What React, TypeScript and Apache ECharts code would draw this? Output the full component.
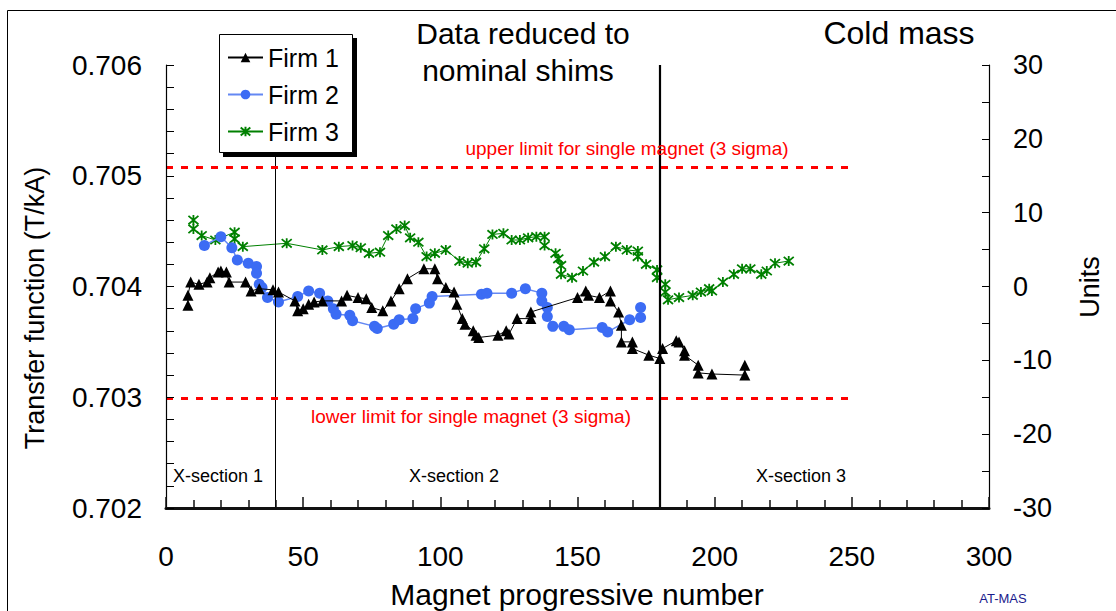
import React, { useEffect, useRef } from 'react';
import * as echarts from 'echarts';

const FONT = "'Liberation Sans', Arial, sans-serif";

// Magnet progressive number, transfer function (T/kA)
const firm1: number[][] = [
  [8, 0.70383], [8, 0.70392], [9, 0.70404], [12, 0.70402], [15, 0.70404], [16, 0.70408], [19, 0.70413], [20, 0.70414],
  [22, 0.70413], [23, 0.70404], [29, 0.70404], [31, 0.70396], [34, 0.70398], [39, 0.70397], [41, 0.70395], [47, 0.70387],
  [48, 0.70378], [50, 0.7038], [52, 0.70384], [54, 0.70386], [57, 0.70387], [64, 0.70387], [66, 0.70392], [70, 0.7039],
  [73, 0.70389], [75, 0.70381], [79, 0.70378], [82, 0.70387], [85, 0.70398], [88, 0.70407], [94, 0.70416], [98, 0.70416],
  [99, 0.70407], [102, 0.70399], [105, 0.70395], [106, 0.70384], [108, 0.70371], [109, 0.70366], [112, 0.7036], [113, 0.70356],
  [114, 0.70354], [121, 0.70356], [124, 0.7036], [125, 0.70357], [128, 0.70371], [133, 0.70371], [133, 0.70377], [150, 0.7039],
  [153, 0.70396], [154, 0.70392], [158, 0.7039], [162, 0.70396], [162, 0.70387], [165, 0.70377], [166, 0.70365], [166, 0.7035],
  [170, 0.7035], [170, 0.70344], [176, 0.70338], [180, 0.70335], [181, 0.70344], [186, 0.70351], [187, 0.7035], [189, 0.70342],
  [189, 0.70338], [194, 0.70329], [194, 0.70322], [199, 0.70321], [211, 0.7032], [211, 0.70329],
];

const firm2: number[][] = [
  [14, 0.70437], [20, 0.70445], [24, 0.70435], [26, 0.70424], [30, 0.70421], [33, 0.70418], [33, 0.70412], [34, 0.70402],
  [35, 0.70399], [37, 0.7039], [41, 0.70386], [48, 0.70391], [52, 0.70396], [56, 0.70394], [59, 0.70387], [61, 0.7038],
  [62, 0.70375], [67, 0.70374], [68, 0.70369], [76, 0.70364], [77, 0.70362], [83, 0.70366], [85, 0.7037], [90, 0.70371],
  [91, 0.7038], [96, 0.70385], [97, 0.70391], [115, 0.70393], [117, 0.70394], [126, 0.70394], [131, 0.70398], [137, 0.70394],
  [137, 0.70387], [139, 0.70381], [139, 0.70373], [141, 0.70364], [145, 0.70364], [147, 0.70361], [159, 0.70363], [161, 0.70359],
  [169, 0.7037], [173, 0.70372], [173, 0.70381],
];

const firm3: number[][] = [
  [10, 0.7046], [10, 0.70452], [13, 0.70446], [18, 0.70442], [25, 0.70449], [25, 0.70443], [28, 0.70436], [44, 0.70439],
  [57, 0.70433], [63, 0.70436], [68, 0.70437], [71, 0.70435], [74, 0.7043], [78, 0.70431], [81, 0.70446], [84, 0.70452],
  [87, 0.70455], [89, 0.70444], [92, 0.7044], [95, 0.70427], [98, 0.7043], [102, 0.70433], [107, 0.70423], [110, 0.70421],
  [113, 0.70422], [116, 0.70434], [119, 0.70447], [123, 0.70448], [126, 0.70442], [129, 0.70442], [132, 0.70444], [135, 0.70445],
  [138, 0.70445], [138, 0.70437], [142, 0.7043], [143, 0.70425], [144, 0.70419], [144, 0.70411], [148, 0.70408], [152, 0.70414],
  [156, 0.70422], [160, 0.70427], [164, 0.70436], [168, 0.70433], [172, 0.70432], [172, 0.70427], [175, 0.7042], [179, 0.70415],
  [179, 0.70408], [182, 0.70402], [182, 0.70395], [183, 0.70388], [187, 0.7039], [192, 0.70392], [195, 0.70395], [198, 0.70398],
  [199, 0.70396], [203, 0.70404], [207, 0.70411], [210, 0.70416], [213, 0.70416], [217, 0.70411], [219, 0.70414], [222, 0.70421],
  [227, 0.70423],
];

const seriesNames = ['Firm 1', 'Firm 2', 'Firm 3'];
const upperLimit = 0.70508;
const lowerLimit = 0.70299;
const limitRange = [0, 250];
const sectionBounds = [40, 180];

const STAR = 'path://M0,0L10,10M10,0L0,10M5,-1L5,11';

function txt(text: string, x: number, y: number, size: number, fill = '#000', extra: any = {}) {
  return {
    type: 'text',
    x,
    y,
    silent: true,
    z: 50,
    ...extra,
    style: {
      text,
      x: 0,
      y: 0,
      fill,
      fontSize: size,
      fontFamily: FONT,
      align: 'center',
      verticalAlign: 'middle',
      textAlign: 'center',
      textVerticalAlign: 'middle',
    },
  };
}

export default function App() {
  const ref = useRef<HTMLDivElement>(null);
  useEffect(() => {
    const chart = echarts.init(ref.current!, null, { renderer: 'svg' });
    const axisLabel = { color: '#000', fontSize: 27, fontFamily: FONT };
    chart.setOption({
      animation: false,
      backgroundColor: '#fff',
      grid: { left: 166, right: 127, top: 65, bottom: 103 },
      legend: {
        orient: 'vertical',
        left: 227,
        top: 45,
        padding: 0,
        itemWidth: 35,
        itemHeight: 12,
        itemGap: 12,
        z: 110,
        data: seriesNames,
        textStyle: { color: '#000', fontSize: 25, lineHeight: 25, fontFamily: FONT },
      },
      xAxis: {
        type: 'value',
        position: 'bottom',
        min: 0,
        max: 300,
        interval: 50,
        z: 20,
        axisLine: { show: true, onZero: false, lineStyle: { color: '#111', width: 3 } },
        axisTick: { show: true, inside: true, length: 11, lineStyle: { color: '#111', width: 1.5 } },
        minorTick: { show: true, splitNumber: 5, length: 8, lineStyle: { color: '#111', width: 1.5 } },
        splitLine: { show: false },
        axisLabel: { ...axisLabel, fontSize: 28, margin: 34 },
      },
      yAxis: [
        {
          type: 'value',
          min: 0.702,
          max: 0.706,
          interval: 0.001,
          z: 20,
          axisLine: { show: true, onZero: false, lineStyle: { color: '#000', width: 1.2 } },
          axisTick: { show: true, inside: true, length: 8, lineStyle: { color: '#000' } },
          minorTick: { show: true, splitNumber: 5, length: 8, lineStyle: { color: '#000' } },
          splitLine: { show: false },
          axisLabel: { ...axisLabel, fontSize: 28, margin: 24, formatter: (v: number) => v.toFixed(3) },
        },
        {
          type: 'value',
          position: 'right',
          min: -30,
          max: 30,
          interval: 10,
          z: 20,
          axisLine: { show: true, onZero: false, lineStyle: { color: '#000', width: 1.2 } },
          axisTick: { show: true, inside: true, length: 7, lineStyle: { color: '#000' } },
          minorTick: { show: true, splitNumber: 2, length: 7, lineStyle: { color: '#000' } },
          splitLine: { show: false },
          axisLabel: { ...axisLabel, margin: 24 },
        },
      ],
      series: [
        {
          name: seriesNames[0],
          type: 'line',
          data: firm1,
          symbol: 'triangle',
          symbolSize: 11,
          itemStyle: { color: '#000' },
          lineStyle: { color: '#000', width: 1 },
          z: 5,
          markLine: {
            silent: true,
            symbol: ['none', 'none'],
            label: { show: false },
            animation: false,
            data: [
              { xAxis: sectionBounds[0], lineStyle: { color: '#000', width: 1, type: 'solid' } },
              { xAxis: sectionBounds[1], lineStyle: { color: '#000', width: 2.2, type: 'solid' } },
              [
                { coord: [limitRange[0], upperLimit], lineStyle: { color: '#ff0000', width: 3, type: [7, 8] } },
                { coord: [limitRange[1], upperLimit] },
              ],
              [
                { coord: [limitRange[0], lowerLimit], lineStyle: { color: '#ff0000', width: 3, type: [7, 8] } },
                { coord: [limitRange[1], lowerLimit] },
              ],
            ],
          },
        },
        {
          name: seriesNames[1],
          type: 'line',
          data: firm2,
          symbol: 'circle',
          symbolSize: 11,
          itemStyle: { color: '#3c6cf4' },
          lineStyle: { color: '#6488f3', width: 1.5 },
          z: 4,
        },
        {
          name: seriesNames[2],
          type: 'line',
          data: firm3,
          symbol: STAR,
          symbolSize: 10,
          itemStyle: { color: 'rgba(0,0,0,0)', borderColor: '#008000', borderWidth: 1.8 },
          lineStyle: { color: '#008000', width: 1 },
          z: 3,
        },
      ],
      graphic: [
        {
          type: 'rect',
          silent: true,
          z: 1,
          shape: { x: 7.5, y: 10.5, width: 1200, height: 700 },
          style: { fill: 'none', stroke: '#000', lineWidth: 1 },
        },
        {
          type: 'rect',
          silent: true,
          z: 100,
          shape: { x: 223, y: 38, width: 134, height: 119 },
          style: { fill: '#000' },
        },
        {
          type: 'rect',
          silent: true,
          z: 101,
          shape: { x: 219.5, y: 34.5, width: 133, height: 118 },
          style: { fill: '#fff', stroke: '#000', lineWidth: 1 },
        },
        txt('Data reduced to', 523, 33, 30),
        txt('nominal shims', 518, 70, 30),
        txt('Cold mass', 899, 33, 32),
        txt('upper limit for single magnet (3 sigma)', 627, 148, 19, '#ff0000'),
        txt('lower limit for single magnet (3 sigma)', 471, 416, 19, '#ff0000'),
        txt('X-section 1', 218, 476, 18),
        txt('X-section 2', 454, 476, 18),
        txt('X-section 3', 801, 476, 18),
        txt('Magnet progressive number', 577, 594, 30),
        txt('Transfer function (T/kA)', 35, 308, 27, '#000', { rotation: Math.PI / 2 }),
        txt('Units', 1090, 287, 27, '#000', { rotation: Math.PI / 2 }),
        txt('AT-MAS', 1003, 598, 13, '#1a1a8c'),
      ],
    });
    return () => chart.dispose();
  }, []);
  return (
    <div
      ref={ref}
      style={{ position: 'fixed', left: 0, top: 0, width: 1116, height: 611, background: '#fff' }}
    />
  );
}
